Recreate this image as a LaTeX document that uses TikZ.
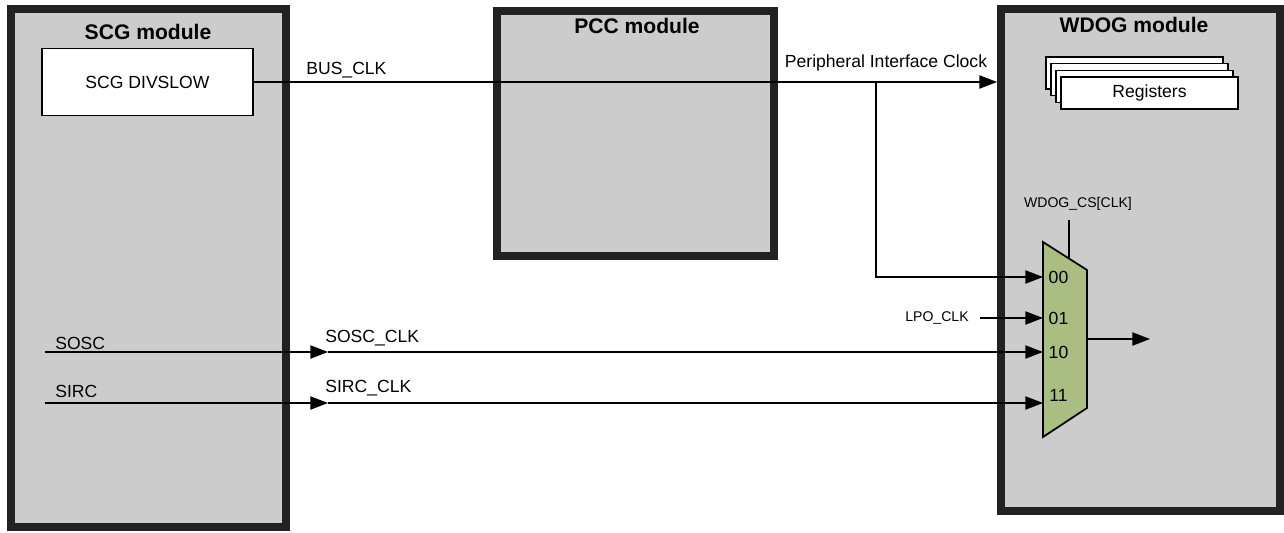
\documentclass[tikz,border=0pt]{standalone}
\usepackage{fontspec}
\setmainfont{Liberation Sans}
\usetikzlibrary{arrows.meta}
\definecolor{modgray}{HTML}{CCCCCC}
\definecolor{modedge}{HTML}{222222}
\definecolor{muxgreen}{RGB}{170,190,130}

\begin{document}
\begin{tikzpicture}[font=\fontsize{10}{12}\selectfont,
    module/.style={draw=modedge, fill=modgray, line width=4.5pt},
    title/.style={font=\fontsize{12}{14}\selectfont\bfseries},
    block/.style={draw, fill=white, line width=0.7pt},
    sig/.style={-{Triangle[length=10pt,width=7.5pt]}, line width=0.7pt},
    tag/.style={inner sep=0pt, anchor=west},
    small/.style={font=\fontsize{8}{10}\selectfont}]
    \useasboundingbox (0,0) rectangle (25.68,10.64);

    % Modules
    \node[module, minimum width=5.5cm, minimum height=10.36cm] (scg) at (2.97,5.28) {};
    \node[module, minimum width=5.54cm, minimum height=4.9cm] (pcc) at (12.71,7.97) {};
    \node[module, minimum width=5.58cm, minimum height=10.04cm] (wdog) at (22.81,5.44) {};
    \node[title] (scgtitle) at (2.96,10.0) {SCG module};
    \node[title] (pcctitle) at (12.74,10.12) {PCC module};
    \node[title] (wdogtitle) at (22.68,10.14) {WDOG module};

    % SCG divider and WDOG registers
    \node[block, minimum width=4.22cm, minimum height=1.34cm] (divslow) at (2.95,9.0) {SCG DIVSLOW};
    \foreach \i in {3,2,1}
        \node[block, minimum width=3.54cm, minimum height=0.64cm] (reg\i) at (22.99-0.1*\i,8.78+0.133*\i) {};
    \node[block, minimum width=3.54cm, minimum height=0.64cm] (regs) at (22.99,8.78) {Registers};

    % Clock mux
    \draw[fill=muxgreen, line width=1pt] (20.86,5.8) -- (21.74,5.24) -- (21.74,2.48) -- (20.86,1.9) -- cycle;
    \coordinate (in00) at (20.86,5.10);
    \coordinate (in01) at (20.86,4.28);
    \coordinate (in10) at (20.86,3.6);
    \coordinate (in11) at (20.86,2.58);
    \coordinate (muxout) at (21.74,3.86);
    \coordinate (clkout) at (23.0,3.86);
    \coordinate (sel) at (21.38,5.47);
    \coordinate (seltop) at (21.38,6.24);
    \node at (21.17,5.10) {00};
    \node at (21.17,4.28) {01};
    \node at (21.17,3.6) {10};
    \node at (21.17,2.74) {11};
    \node[small] (cs) at (21.56,6.56) {WDOG\_CS[CLK]};

    % Signal end points
    \coordinate (tap) at (17.52,9.0);
    \coordinate (sosc) at (0.9,3.6);
    \coordinate (soscout) at (6.56,3.6);
    \coordinate (sirc) at (0.9,2.58);
    \coordinate (sircout) at (6.56,2.58);

    % Labels
    \node[tag] (buslbl) at (6.12,9.24) {BUS\_CLK};
    \node (pclk) at (17.72,9.38) {Peripheral Interface Clock};
    \node[tag] (sosclbl) at (1.1,3.78) {SOSC};
    \node[tag] (sircfl) at (1.1,2.82) {SIRC};
    \node[tag] (soscclk) at (6.5,3.88) {SOSC\_CLK};
    \node[tag] (sircclk) at (6.5,2.88) {SIRC\_CLK};
    \node[small] (lpo) at (18.74,4.28) {LPO\_CLK};

    % Connections
    \draw[sig] (divslow.east) -- (divslow.east -| wdog.west);
    \draw[sig] (tap) |- (in00);
    \draw[sig, shorten <=3pt] (lpo.east) -- (in01);
    \draw[sig] (sosc) -- (soscout);
    \draw[sig] (soscout) -- (in10);
    \draw[sig] (sirc) -- (sircout);
    \draw[sig] (sircout) -- (in11);
    \draw[sig] (muxout) -- (clkout);
    \draw[line width=0.7pt] (seltop) -- (sel);
\end{tikzpicture}
\end{document}
